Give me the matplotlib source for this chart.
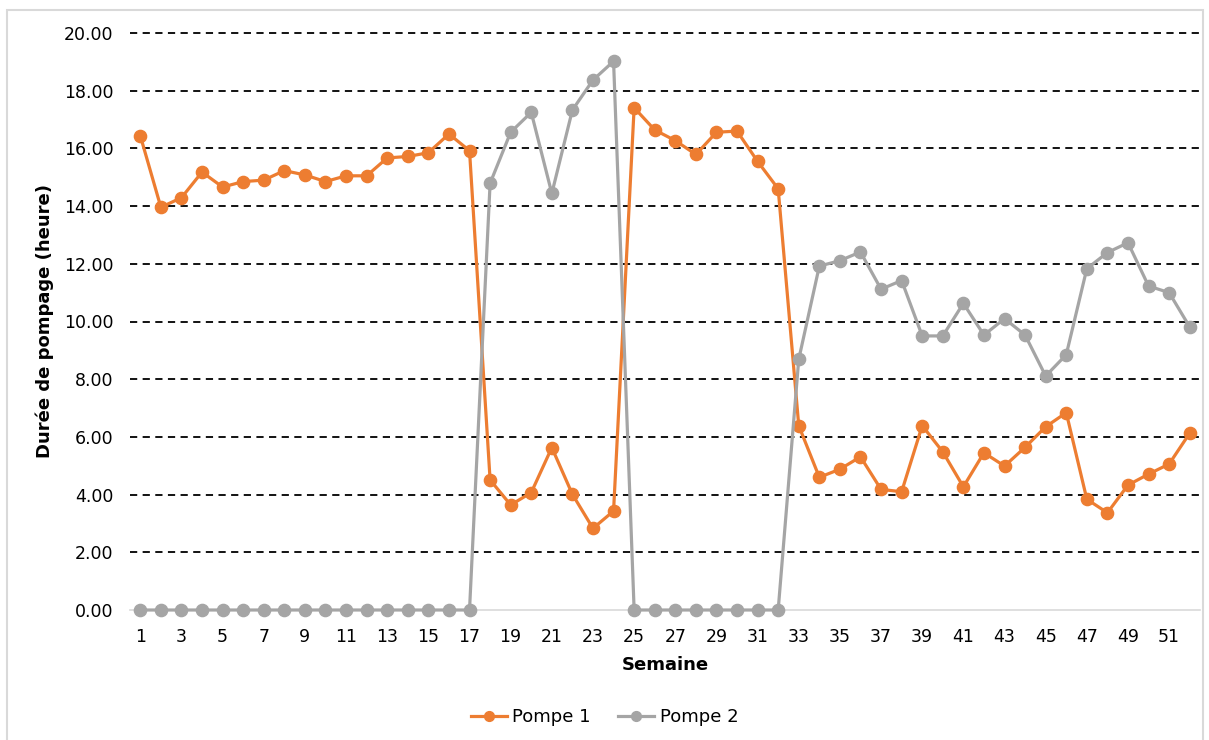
import matplotlib
matplotlib.use("Agg")
import matplotlib.pyplot as plt
from matplotlib.patches import Rectangle

weeks = list(range(1, 53))
pompe1 = [16.44, 13.96, 14.29, 15.18, 14.66, 14.85, 14.90, 15.23, 15.08, 14.85,
          15.05, 15.05, 15.67, 15.72, 15.85, 16.50, 15.92, 4.51, 3.64, 4.07,
          5.63, 4.01, 2.83, 3.43, 17.41, 16.64, 16.27, 15.79, 16.56, 16.60,
          15.55, 14.60, 6.39, 4.60, 4.88, 5.31, 4.18, 4.10, 6.39, 5.48,
          4.27, 5.45, 4.99, 5.64, 6.35, 6.84, 3.84, 3.37, 4.33, 4.71,
          5.06, 6.13]
pompe2 = [0, 0, 0, 0, 0, 0, 0, 0, 0, 0,
          0, 0, 0, 0, 0, 0, 0, 14.79, 16.56, 17.25,
          14.44, 17.33, 18.37, 19.02, 0, 0, 0, 0, 0, 0,
          0, 0, 8.69, 11.92, 12.11, 12.41, 11.12, 11.42, 9.50, 9.50,
          10.63, 9.53, 10.10, 9.53, 8.11, 8.85, 11.83, 12.39, 12.73, 11.23,
          11.00, 9.81]
yticks = [0, 2, 4, 6, 8, 10, 12, 14, 16, 18, 20]
xtick_weeks = list(range(1, 53, 2))

plt.rcParams['font.family'] = ['DejaVu Sans']

fig = plt.figure(figsize=(12.09, 7.40), dpi=100)
ax = fig.add_axes([130/1209, 1-610/740, 1070/1209, 577/740])

# outer border
fig.patches.append(Rectangle((7/1209, -0.01), 1196/1209, 1-10/740+0.01,
                             transform=fig.transFigure, fill=False,
                             edgecolor='#D9D9D9', linewidth=1.5))

for y in yticks[1:]:
    ax.axhline(y, color='black', linestyle=(0, (4, 3)), linewidth=1.3,
               zorder=1, clip_on=False)
ax.axhline(0, color='#D9D9D9', linewidth=1.2, zorder=1, clip_on=False)

ax.plot(weeks, pompe1, color='#ED7D31', linewidth=2.3, marker='o',
        markersize=8.8, label='Pompe 1', zorder=3, clip_on=False)
ax.plot(weeks, pompe2, color='#A5A5A5', linewidth=2.3, marker='o',
        markersize=8.8, label='Pompe 2', zorder=3, clip_on=False)

ax.set_xlim(0.5, 52.5)
ax.set_ylim(0, 20)
ax.set_yticks(yticks)
ax.set_yticklabels([f"{v:.2f}" for v in yticks], fontsize=12.5)
ax.set_xticks(xtick_weeks)
ax.set_xticklabels([str(w) for w in xtick_weeks], fontsize=12.5)
ax.tick_params(axis='both', length=0)
ax.tick_params(axis='y', pad=12)
ax.tick_params(axis='x', pad=13)
for s in ax.spines.values():
    s.set_visible(False)

ax.set_xlabel('Semaine', fontsize=13, fontweight='bold', labelpad=7)
ax.set_ylabel('Durée de pompage (heure)', fontsize=13, fontweight='bold', labelpad=7)

leg = fig.legend(loc='center', bbox_to_anchor=(0.5, 1-717/740), ncol=2,
                 frameon=False, fontsize=13, handlelength=2.0,
                 columnspacing=1.5, handletextpad=0.3, markerscale=0.8)

fig.savefig('out.png', dpi=100)
